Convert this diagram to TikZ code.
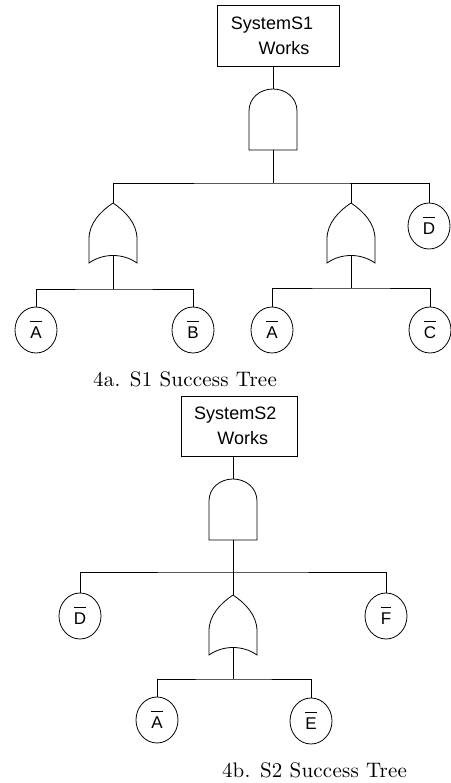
\documentclass[tikz,border=0pt]{standalone}
\usepackage{fontspec}
\usetikzlibrary{shapes.geometric}
\newfontfamily\lsans{Liberation Sans}
\newfontfamily\capfont{lmroman10-regular}[Extension=.otf, LetterSpace=1]
\newcommand\obar[1]{\vbox{\hrule height 0.9pt\kern 4.5pt\hbox{#1}}}
\tikzset{
  andgate/.pic={
    \draw (-24,61) -- (-24,22) .. controls (-24,9) and (-13,0) .. (0,0)
      .. controls (13,0) and (24,9) .. (24,22) -- (24,61) -- cycle;
    \coordinate (-in) at (0,0);
    \coordinate (-out) at (0,61);
  },
  orgate/.pic={
    \draw (0,0) .. controls (-12,8) and (-24,20) .. (-24,36) -- (-24,60)
      .. controls (-10,50) and (10,50) .. (24,60) -- (24,36)
      .. controls (24,20) and (12,8) .. (0,0) -- cycle;
    \coordinate (-in) at (0,0);
    \coordinate (-out) at (0,52.5);
  },
  topbox/.style={draw, rectangle, inner sep=0pt, align=center,
    font=\lsans\fontsize{18}{25}\selectfont},
  evt/.style={draw, ellipse, minimum width=42pt, minimum height=46pt,
    inner sep=0pt, font=\lsans\fontsize{17}{19}\selectfont},
  caption/.style={font=\capfont\fontsize{21}{25}\selectfont, inner sep=0pt},
}
\begin{document}
\begin{tikzpicture}[x=1pt, y=-1pt, line width=0.8pt]
\useasboundingbox (0,0) rectangle (450,783);
% ---------- 4a ----------
\node[topbox, minimum width=122pt, minimum height=61pt] (box1) at (278,35.5)
  {SystemS1\hspace*{12pt}\\\hspace*{12pt}Works};
\pic (and1) at (273,89) {andgate};
\coordinate (j1) at (273,183);
\pic (or1a) at (113,203) {orgate};
\pic (or1b) at (351,203) {orgate};
\node[evt] (D1) at (429,226) {\obar{D}};
\coordinate (j2) at (113,289);
\coordinate (j3) at (351,288);
\node[evt] (A1) at (36,330) {\obar{A}};
\node[evt] (B1) at (193,330) {\obar{B}};
\node[evt] (A2) at (272,330) {\obar{A}};
\node[evt] (C1) at (430,330) {\obar{C}};
\draw (and1-in |- box1.south) -- (and1-in);
\draw (and1-out) -- (j1);
\draw (or1a-in) |- (j1) -| (D1.north);
\draw (or1b-in |- j1) -- (or1b-in);
\draw (or1a-out) -- (j2);
\draw (A1.north) |- (j2) -| (B1.north);
\draw (or1b-out) -- (j3);
\draw (A2.north) |- (j3) -| (C1.north);
\node[caption] (cap1) at (185,379) {4a. S1 Success Tree};
% ---------- 4b ----------
\node[topbox, minimum width=116pt, minimum height=60pt] (box2) at (239,426)
  {SystemS2\hspace*{7.5pt}\\\hspace*{7.5pt}Works};
\pic (and2) at (233,479) {andgate};
\coordinate (j4) at (233,572);
\pic (or2) at (233,595) {orgate};
\node[evt] (D2) at (80,616) {\obar{D}};
\node[evt] (F2) at (386,616) {\obar{F}};
\coordinate (j5) at (233,679);
\node[evt] (A3) at (157,720) {\obar{A}};
\node[evt] (E2) at (311,721) {\obar{E}};
\draw (and2-in |- box2.south) -- (and2-in);
\draw (and2-out) -- (or2-in);
\draw (D2.north) |- (j4) -| (F2.north);
\draw (or2-out) -- (j5);
\draw (A3.north) |- (j5) -| (E2.north);
\node[caption] (cap2) at (314.5,770) {4b. S2 Success Tree};
\end{tikzpicture}
\end{document}
